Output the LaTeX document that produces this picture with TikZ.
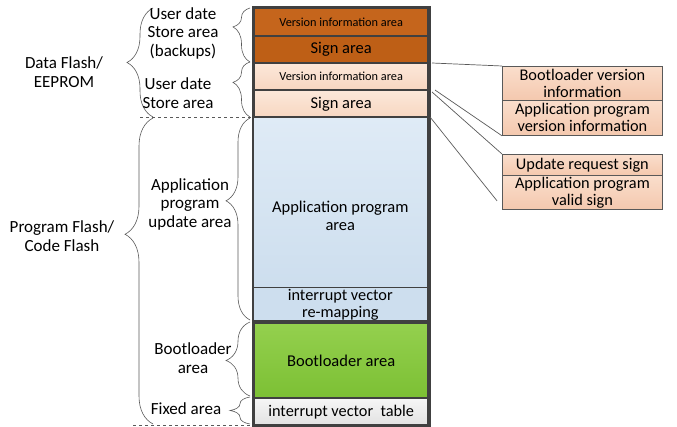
\documentclass[tikz,border=0pt]{standalone}
\usepackage{fontspec}
\setmainfont{Carlito}
\usetikzlibrary{calc,decorations.pathreplacing}

\definecolor{flashorange}{RGB}{197,101,28}
\definecolor{flashorangedark}{RGB}{190,95,22}
\definecolor{peachtop}{RGB}{252,232,218}
\definecolor{peachbot}{RGB}{247,214,192}
\definecolor{boxtop}{RGB}{250,222,204}
\definecolor{boxbot}{RGB}{244,200,174}
\definecolor{bluetop}{RGB}{223,235,246}
\definecolor{bluebot}{RGB}{205,222,238}
\definecolor{greentop}{RGB}{148,208,78}
\definecolor{greenbot}{RGB}{124,192,52}
\definecolor{graytop}{RGB}{246,246,246}
\definecolor{graybot}{RGB}{226,226,226}
\definecolor{framegray}{RGB}{64,64,64}
\definecolor{linegray}{RGB}{89,89,89}

\begin{document}
\begin{tikzpicture}[x=1pt,y=-1pt,
    area/.style={draw=framegray,line width=2.4pt,anchor=north west,
      minimum width=174pt,inner sep=0pt,align=center},
    infobox/.style={draw=linegray,line width=0.8pt,anchor=north west,
      minimum width=160pt,inner sep=0pt,align=center,
      font=\fontsize{16.3}{17}\selectfont,top color=boxtop,bottom color=boxbot},
    curly/.style 2 args={decorate,decoration={brace,amplitude=#1,aspect=#2},
      draw=linegray,line width=0.6pt},
    side/.style={align=center,font=\fontsize{17}{18.5}\selectfont},
    big/.style={font=\fontsize{16.5}{18}\selectfont},
    mid/.style={font=\fontsize{16.3}{17}\selectfont},
    small/.style={font=\fontsize{12.3}{13}\selectfont}]

    \useasboundingbox (0,0) rectangle (677,427);

    % memory column
    \node[area,small,minimum height=28pt,fill=flashorange] (ver1) at (253,7) {Version information area};
    \node[area,big,minimum height=27pt,fill=flashorangedark] (sign1) at (253,35) {Sign area};
    \node[area,small,minimum height=27pt,top color=peachtop,bottom color=peachbot] (ver2) at (253,62) {Version information area};
    \node[area,big,minimum height=28pt,top color=peachtop,bottom color=peachbot] (sign2) at (253,89) {Sign area};
    \node[area,line width=0.6pt,minimum height=170pt,top color=bluetop,bottom color=bluebot] (app) at (253,117) {};
    \node[big,align=center] (applbl) at ($(app.center)+(0,14)$) {Application program\\area};
    \node[area,mid,line width=0.6pt,minimum height=34pt,fill=bluebot] (remap) at (253,287) {interrupt vector\\re-mapping};
    \node[area,big,minimum height=75pt,top color=greentop,bottom color=greenbot] (boot) at (253,322) {Bootloader area};
    \node[area,mid,minimum height=27pt,top color=graytop,bottom color=graybot] (ivt) at (253,397) {interrupt vector\ \ table};
    \draw[framegray,line width=2.4pt] (ver1.north west) rectangle (ivt.south east);
    \draw[framegray,line width=2.4pt] (remap.south west) -- (remap.south east);
    \draw[framegray,line width=2.4pt] (app.north west) -- (app.north east);

    % info boxes
    \node[infobox,minimum height=34pt] (bvi) at (502,66) {Bootloader version\\information};
    \node[infobox,minimum height=35pt] (avi) at (502,100) {Application program\\version information};
    \node[infobox,minimum height=21pt] (urs) at (502,154) {Update request sign};
    \node[infobox,minimum height=34pt] (avs) at (502,175) {Application program\\valid sign};

    \coordinate (p1) at (432,63);
    \coordinate (p2) at (435,90);
    \coordinate (p3) at (432,92);
    \coordinate (p4) at (430,117);
    \draw[linegray,line width=0.7pt] (p1) -- (bvi.north west);
    \draw[linegray,line width=0.7pt] (p2) -- (avi.south west);
    \draw[linegray,line width=0.7pt] (p3) -- (urs.north west);
    \draw[linegray,line width=0.7pt] (p4) -- ($(avs.south west)+(-5,-9)$);

    % braces
    \draw[curly={17}{0.65}] (250,62) -- (250,8);
    \draw[curly={17}{0.63}] (250,117) -- (250,62);
    \draw[curly={24}{0.59}] (250,320) -- (250,118);
    \draw[curly={24}{0.48}] (250,396) -- (250,322);
    \draw[curly={20}{0.5}] (250,424) -- (250,397);
    \draw[curly={26}{0.5}] (153,117) -- (153,8);
    \draw[curly={28}{0.62}] (153,424) -- (153,118);
    \draw[linegray,dashed,line width=0.6pt] (140,117.5) -- (253,117.5);
    \draw[linegray,dashed,line width=0.6pt] (133,425.5) -- (253,425.5);

    % labels
    \node[side] (ubk) at (183,33) {User date\\Store area\\(backups)};
    \node[side] (usa) at (178,93) {User date\\Store area};
    \node[side] (dfl) at (64,72) {Data Flash/\\EEPROM};
    \node[side] (aua) at (190,204) {Application\\program\\update area};
    \node[side] (bla) at (193,358) {Bootloader\\area};
    \node[side] (fxa) at (186,409) {Fixed area};
    \node[side] (pfl) at (62,236) {Program Flash/\\Code Flash};
\end{tikzpicture}
\end{document}
